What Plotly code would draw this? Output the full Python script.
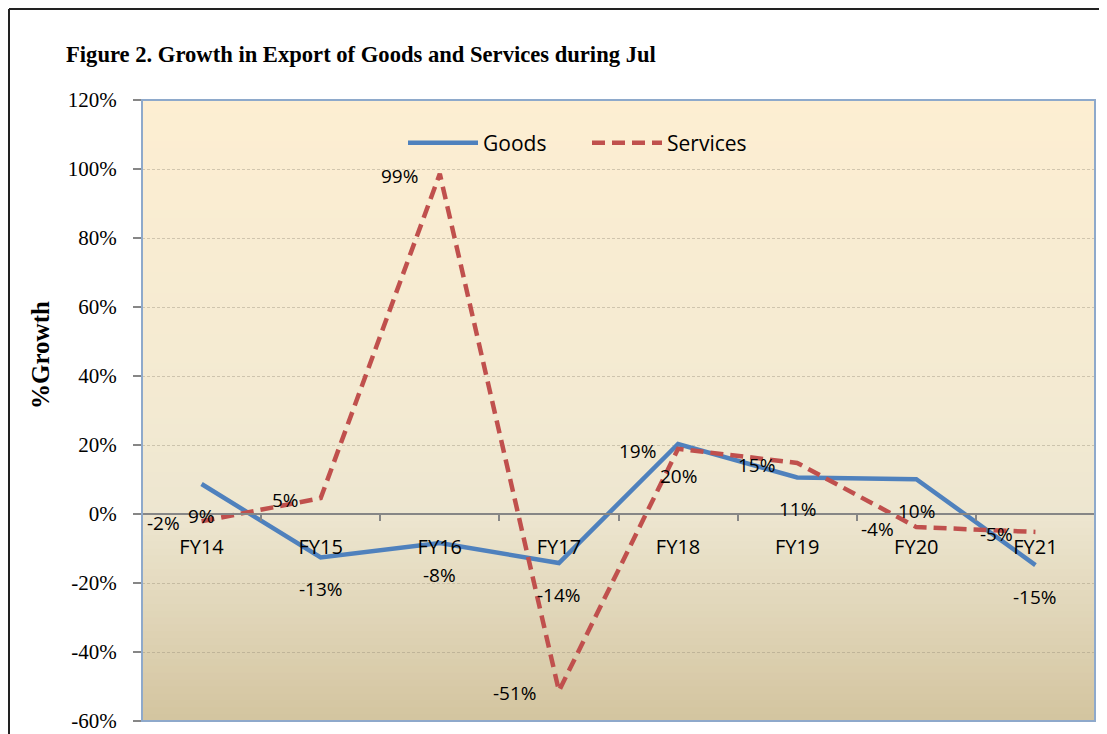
import plotly.graph_objects as go

categories = ["FY14", "FY15", "FY16", "FY17", "FY18", "FY19", "FY20", "FY21"]
goods = [8.7, -12.6, -8.4, -14.2, 20.3, 10.6, 10.1, -14.8]
services = [-2.1, 4.6, 98.6, -51.3, 18.9, 14.8, -3.8, -5.2]
y_ticks = [-60, -40, -20, 0, 20, 40, 60, 80, 100, 120]
y_tick_text = [f"{v}%" for v in y_ticks]

Y_MIN, Y_MAX = -60, 120
# page body has an 8px margin; figure sized/placed to compensate
OFF = 8
W, H = 1099, 726
# plot box in screen pixels
PL, PR, PT, PB = 142, 1095, 100, 721
ML, MT = PL - OFF, PT - OFF
MR, MB = W - (PR - OFF), H - (PB - OFF)
PW, PH = PR - PL, PB - PT


def fx(px):
    return (px - PL) / PW


def fy(py):
    return (PB - py) / PH


fig = go.Figure()

fig.add_trace(go.Scatter(
    x=categories, y=goods, name="Goods", mode="lines",
    line=dict(color="#4F81BD", width=4.5),
))
fig.add_trace(go.Scatter(
    x=categories, y=services, name="Services", mode="lines",
    line=dict(color="#C0504D", width=4.5, dash="13px,7px"),
))

label_font = dict(family="Open Sans", size=19, color="black")
annotations = []
for c, v in zip(categories, goods):
    annotations.append(dict(x=c, y=v, xref="x", yref="y", text=f"{round(v)}%",
                            showarrow=False, yshift=-32, font=label_font))
for c, v in zip(categories, services):
    annotations.append(dict(x=c, y=v, xref="x", yref="y", text=f"{round(v)}%",
                            showarrow=False, xanchor="right", xshift=-20, yshift=-2,
                            font=label_font))

annotations.append(dict(
    text="<b>Figure 2. Growth in Export of Goods and Services during Jul</b>",
    xref="paper", yref="paper", x=fx(64), y=fy(55),
    xanchor="left", yanchor="middle", showarrow=False,
    font=dict(family="Liberation Serif", size=22.6, color="black"),
))
annotations.append(dict(
    text="<b>%Growth</b>", textangle=-90,
    xref="paper", yref="paper", x=fx(40), y=fy(355),
    xanchor="center", yanchor="middle", showarrow=False,
    font=dict(family="Liberation Serif", size=25, color="black"),
))


def lerp(c1, c2, t):
    return tuple(round(a + (b - a) * t) for a, b in zip(c1, c2))


stops = [(0.0, (211, 196, 159)), (0.333, (237, 230, 208)), (0.5, (243, 234, 210)), (1.0, (253, 238, 210))]


def color_at(p):
    for (p0, c0), (p1, c1) in zip(stops[:-1], stops[1:]):
        if p0 <= p <= p1:
            return lerp(c0, c1, (p - p0) / (p1 - p0))
    return stops[-1][1]


shapes = []
N = 90
for i in range(N):
    p0 = i / N
    p1 = (i + 1) / N
    c = color_at((p0 + p1) / 2)
    shapes.append(dict(type="rect", xref="paper", yref="paper", x0=0, x1=1,
                       y0=p0, y1=min(1, p1 + 0.002), layer="below",
                       fillcolor=f"rgb{c}", line=dict(width=0)))
shapes.append(dict(type="rect", xref="paper", yref="paper", x0=0, x1=1, y0=0, y1=1,
                   line=dict(color="#8EA9CB", width=2), layer="above"))
shapes.append(dict(type="line", xref="paper", yref="paper", x0=fx(9), x1=fx(9), y0=fy(760), y1=fy(9),
                   line=dict(color="#222", width=2)))
shapes.append(dict(type="line", xref="paper", yref="paper", x0=fx(9), x1=fx(1102),
                   y0=fy(9), y1=fy(9), line=dict(color="#222", width=2)))

fig.update_layout(
    width=W, height=H,
    margin=dict(l=ML, r=MR, t=MT, b=MB, autoexpand=False),
    paper_bgcolor="white",
    plot_bgcolor="rgba(0,0,0,0)",
    showlegend=True,
    legend=dict(orientation="h", x=fx(403), y=fy(143),
                xanchor="left", yanchor="middle", bgcolor="rgba(0,0,0,0)",
                font=dict(family="Open Sans", size=21, color="black"),
                itemwidth=70, entrywidth=99, entrywidthmode="pixels",
                traceorder="normal"),
    annotations=annotations,
    shapes=shapes,
    xaxis=dict(
        type="category", anchor="free", position=(0 - Y_MIN) / (Y_MAX - Y_MIN),
        showline=True, linecolor="#868686", linewidth=2, automargin=False,
        ticks="outside", tickson="boundaries", ticklen=6, tickcolor="#868686", tickwidth=1.5,
        showgrid=False, ticklabelstandoff=15,
        tickfont=dict(family="Open Sans", size=20, color="black"),
        range=[-0.5, 7.5],
    ),
    yaxis=dict(
        range=[Y_MIN, Y_MAX], tickvals=y_ticks, ticktext=y_tick_text, automargin=False,
        showline=False, zeroline=False,
        ticks="outside", ticklen=8, tickcolor="#868686", tickwidth=1.5,
        showgrid=True, gridcolor="rgba(150,140,120,0.4)", gridwidth=1, griddash="3px,2px",
        ticklabelstandoff=12,
        tickfont=dict(family="Liberation Serif", size=21, color="black"),
    ),
)

fig.write_html("out.html")
